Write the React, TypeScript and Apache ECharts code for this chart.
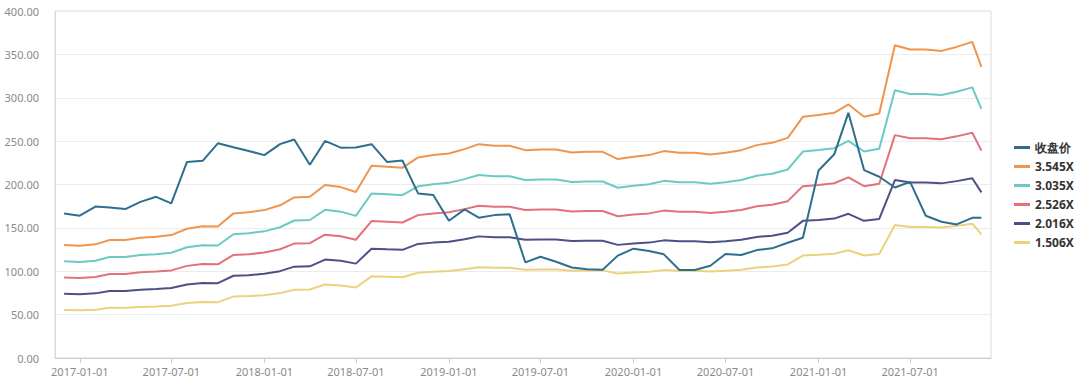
import React, { useEffect, useRef } from "react";
import * as echarts from "echarts";

const dates = [
  "2016-12-01",
  "2017-01-01", "2017-02-01", "2017-03-01", "2017-04-01", "2017-05-01", "2017-06-01",
  "2017-07-01", "2017-08-01", "2017-09-01", "2017-10-01", "2017-11-01", "2017-12-01",
  "2018-01-01", "2018-02-01", "2018-03-01", "2018-04-01", "2018-05-01", "2018-06-01",
  "2018-07-01", "2018-08-01", "2018-09-01", "2018-10-01", "2018-11-01", "2018-12-01",
  "2019-01-01", "2019-02-01", "2019-03-01", "2019-04-01", "2019-05-01", "2019-06-01",
  "2019-07-01", "2019-08-01", "2019-09-01", "2019-10-01", "2019-11-01", "2019-12-01",
  "2020-01-01", "2020-02-01", "2020-03-01", "2020-04-01", "2020-05-01", "2020-06-01",
  "2020-07-01", "2020-08-01", "2020-09-01", "2020-10-01", "2020-11-01", "2020-12-01",
  "2021-01-01", "2021-02-01", "2021-03-01", "2021-04-01", "2021-05-01", "2021-06-01",
  "2021-07-01", "2021-08-01", "2021-09-01", "2021-10-01", "2021-11-01", "2021-11-19",
];

const tickDates = [
  "2017-01-01", "2017-07-01", "2018-01-01", "2018-07-01", "2019-01-01",
  "2019-07-01", "2020-01-01", "2020-07-01", "2021-01-01", "2021-07-01",
];

const closePrice = [
  166.7, 164.0, 174.5, 173.6, 171.7, 180.0, 185.8, 178.2, 226.0, 227.3, 247.5, 243.0,
  238.7, 233.9, 246.5, 251.9, 222.8, 250.2, 242.5, 242.7, 246.5, 225.8, 227.7, 189.7,
  187.8, 158.2, 171.3, 161.8, 164.7, 165.8, 110.3, 116.7, 110.9, 104.3, 102.3, 101.8,
  118.0, 126.0, 123.4, 119.5, 101.4, 101.4, 106.3, 119.8, 118.7, 124.4, 126.4, 132.8,
  138.6, 216.2, 234.8, 282.6, 216.6, 208.9, 196.5, 203.1, 164.0, 157.0, 154.0, 161.6, 161.6,
];

const band3545 = [
  130.2, 129.4, 131.0, 136.0, 136.0, 138.6, 139.8, 141.7, 149.0, 152.0, 151.5, 166.7,
  168.0, 170.5, 176.0, 185.1, 185.8, 199.5, 197.0, 191.3, 221.5, 220.4, 219.2, 231.2,
  233.9, 235.8, 240.8, 246.5, 244.6, 244.6, 239.6, 240.4, 240.4, 237.0, 237.7, 237.7,
  229.3, 232.0, 233.9, 238.5, 236.5, 236.5, 234.7, 236.5, 239.6, 245.4, 248.0, 253.8,
  278.0, 280.0, 282.6, 292.3, 278.0, 281.9, 360.6, 355.6, 355.6, 354.0, 358.6, 364.4, 335.6,
];

const band3035 = [
  111.5, 110.8, 112.2, 116.4, 116.4, 118.7, 119.7, 121.3, 127.6, 130.1, 129.7, 142.7,
  143.8, 146.0, 150.7, 158.5, 159.1, 170.8, 168.7, 163.8, 189.6, 188.7, 187.7, 197.9,
  200.3, 201.9, 206.2, 211.0, 209.4, 209.4, 205.1, 205.8, 205.8, 202.9, 203.5, 203.5,
  196.3, 198.6, 200.3, 204.2, 202.5, 202.5, 200.9, 202.5, 205.1, 210.1, 212.3, 217.3,
  238.0, 239.7, 241.9, 250.2, 238.0, 241.3, 308.7, 304.4, 304.4, 303.1, 307.0, 312.0, 287.3,
];

const band2526 = [
  92.8, 92.2, 93.3, 96.9, 96.9, 98.8, 99.6, 101.0, 106.2, 108.3, 108.0, 118.8,
  119.7, 121.5, 125.4, 131.9, 132.4, 142.2, 140.4, 136.3, 157.8, 157.0, 156.2, 164.7,
  166.7, 168.0, 171.6, 175.6, 174.3, 174.3, 170.7, 171.3, 171.3, 168.9, 169.4, 169.4,
  163.4, 165.3, 166.7, 169.9, 168.5, 168.5, 167.2, 168.5, 170.7, 174.9, 176.7, 180.8,
  198.1, 199.5, 201.4, 208.3, 198.1, 200.9, 256.9, 253.4, 253.4, 252.2, 255.5, 259.7, 239.1,
];

const band2016 = [
  74.0, 73.6, 74.5, 77.3, 77.3, 78.8, 79.5, 80.6, 84.7, 86.4, 86.2, 94.8,
  95.5, 97.0, 100.1, 105.3, 105.7, 113.5, 112.0, 108.8, 126.0, 125.3, 124.7, 131.5,
  133.0, 134.1, 136.9, 140.2, 139.1, 139.1, 136.3, 136.7, 136.7, 134.8, 135.2, 135.2,
  130.4, 131.9, 133.0, 135.6, 134.5, 134.5, 133.5, 134.5, 136.3, 139.6, 141.0, 144.3,
  158.1, 159.2, 160.7, 166.2, 158.1, 160.3, 205.1, 202.2, 202.2, 201.3, 203.9, 207.2, 190.9,
];

const band1506 = [
  55.3, 55.0, 55.7, 57.8, 57.8, 58.9, 59.4, 60.2, 63.3, 64.6, 64.4, 70.8,
  71.4, 72.4, 74.8, 78.6, 78.9, 84.8, 83.7, 81.3, 94.1, 93.6, 93.1, 98.2,
  99.4, 100.2, 102.3, 104.7, 103.9, 103.9, 101.8, 102.1, 102.1, 100.7, 101.0, 101.0,
  97.4, 98.6, 99.4, 101.3, 100.5, 100.5, 99.7, 100.5, 101.8, 104.3, 105.4, 107.8,
  118.1, 119.0, 120.1, 124.2, 118.1, 119.8, 153.2, 151.1, 151.1, 150.4, 152.3, 154.8, 142.6,
];

const seriesNames = ["收盘价", "3.545X", "3.035X", "2.526X", "2.016X", "1.506X"];
const seriesValues = [closePrice, band3545, band3035, band2526, band2016, band1506];
const seriesColors = ["#2e6e8e", "#f0954d", "#6ccac4", "#e4717a", "#4c5086", "#ecd27c"];

const DAY = 86400000;
const toDay = (s: string) => {
  const [y, m, d] = s.split("-").map(Number);
  return Math.round(Date.UTC(y, m - 1, d) / DAY);
};

const pad = (n: number) => (n < 10 ? "0" + n : "" + n);
const fmtDay = (v: number) => {
  const d = new Date(Math.round(v) * DAY);
  return d.getUTCFullYear() + "-" + pad(d.getUTCMonth() + 1) + "-" + pad(d.getUTCDate());
};

export default function App() {
  const ref = useRef<HTMLDivElement>(null);

  useEffect(() => {
    document.body.style.margin = "0";
    if (!ref.current) return;
    const chart = echarts.init(ref.current, undefined, { renderer: "svg" });
    const tickDays = tickDates.map(toDay);
    const font = "'Noto Sans', sans-serif";

    chart.setOption({
      animation: false,
      textStyle: { fontFamily: font },
      grid: {
        left: 55,
        right: 83,
        top: 11,
        bottom: 32,
        show: true,
        borderColor: "#dcdcdc",
        borderWidth: 1,
      },
      legend: {
        orient: "vertical",
        left: 1009,
        top: "middle",
        icon: "rect",
        itemWidth: 16,
        itemHeight: 3,
        itemGap: 7,
        data: seriesNames,
        textStyle: {
          color: "#333",
          fontSize: 12,
          fontWeight: "bold",
          fontFamily: font,
        },
      },
      xAxis: {
        type: "value",
        min: toDay("2016-11-13"),
        max: toDay("2021-12-08"),
        axisLine: { lineStyle: { color: "#cccccc" } },
        axisTick: {
          show: true,
          customValues: tickDays,
          length: 5,
          lineStyle: { color: "#cccccc" },
        },
        axisLabel: {
          customValues: tickDays,
          formatter: (v: number) => fmtDay(v),
          color: "#8a8a8a",
          fontSize: 11,
          fontFamily: font,
          margin: 8,
        },
        splitLine: { show: false },
      },
      yAxis: {
        type: "value",
        min: 0,
        max: 400,
        interval: 50,
        axisLine: { show: true, lineStyle: { color: "#dcdcdc" } },
        axisTick: { show: false },
        axisLabel: {
          formatter: (v: number) => v.toFixed(2),
          color: "#8a8a8a",
          fontSize: 11,
          fontFamily: font,
          margin: 16,
        },
        splitLine: { lineStyle: { color: "#ececec" } },
      },
      series: seriesNames.map((name, i) => ({
        name,
        type: "line",
        showSymbol: false,
        symbol: "none",
        z: i === 0 ? 3 : 2,
        lineStyle: { width: 2, color: seriesColors[i] },
        itemStyle: { color: seriesColors[i] },
        data: dates.map((d, j) => [toDay(d), seriesValues[i][j]]),
      })),
    });

    return () => chart.dispose();
  }, []);

  return <div ref={ref} style={{ width: 1074, height: 390 }} />;
}
